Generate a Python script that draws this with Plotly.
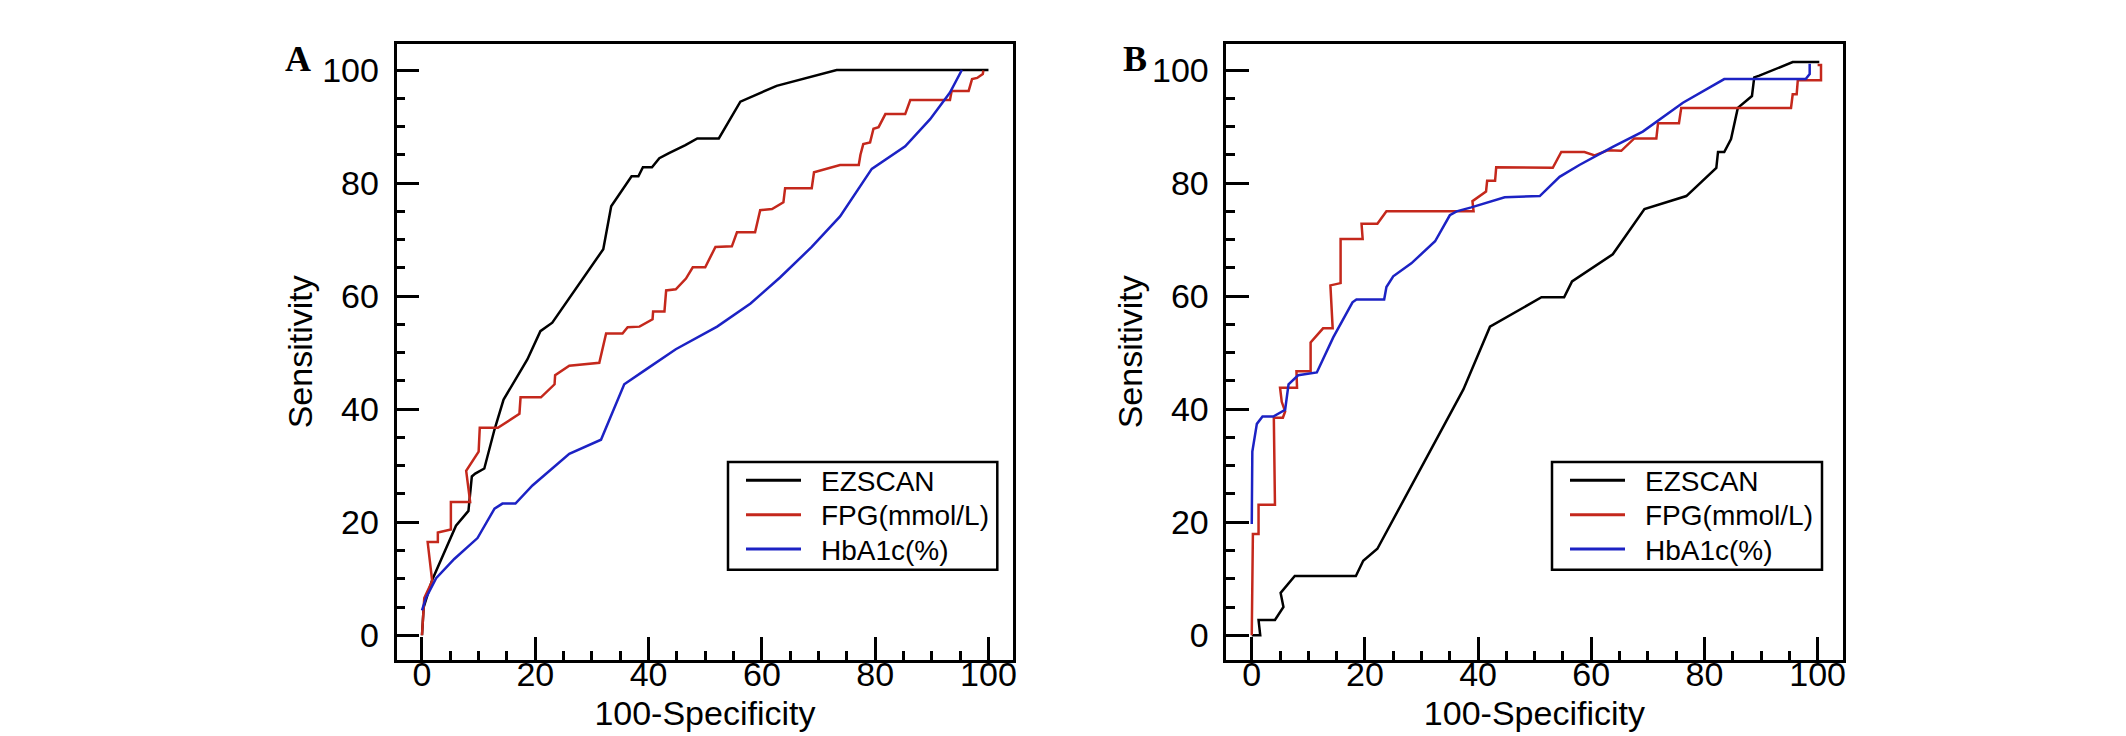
import plotly.graph_objects as go

# ================= DATA =================
# panel A
ez_a_x = [0, 0.3, 1.8, 6.0, 8.2, 8.8, 9.4, 11.0, 12.8, 14.4, 18.6, 20.9, 23.0, 32.0, 33.4,
          37.0, 38.2, 39.0, 40.6, 41.9, 43.6, 46.5, 48.6, 52.4, 56.2, 62.6, 73.2, 100]
ez_a_y = [0, 5.0, 9.8, 19.4, 22.0, 28.1, 28.6, 29.5, 36.4, 41.7, 48.8, 53.8, 55.3, 68.3, 75.9,
          81.2, 81.2, 82.8, 82.8, 84.4, 85.3, 86.7, 87.9, 87.9, 94.4, 97.2, 100, 100]

fpg_a_x = [0, 0.4, 1.8, 1.0, 2.8, 2.8, 5.1, 5.1, 8.5, 7.8, 10.0, 10.2, 13.4, 17.2, 17.4,
           21.0, 23.4, 23.5, 26.0, 31.3, 32.5, 35.4, 36.3, 38.4, 40.7, 40.8, 42.8, 43.1, 44.8, 46.6,
           47.8, 50.0, 51.8, 54.7, 55.6, 58.8, 59.7, 61.8, 63.8, 64.1, 68.8, 69.2, 73.8, 77.1, 77.4,
           77.9, 79.1, 79.7, 80.6, 81.8, 85.3, 86.2, 93.2, 93.5, 96.5, 97.1, 98.0, 99.0, 99.1]
fpg_a_y = [0, 6.6, 9.6, 16.5, 16.5, 18.2, 18.7, 23.6, 23.6, 29.1, 32.5, 36.7, 36.7, 39.2, 42.1,
           42.1, 44.4, 46.0, 47.7, 48.2, 53.4, 53.4, 54.5, 54.6, 55.9, 57.3, 57.3, 61.0, 61.2, 63.1,
           65.1, 65.1, 68.7, 68.8, 71.3, 71.3, 75.2, 75.4, 76.6, 79.1, 79.1, 81.9, 83.2, 83.2, 85.0,
           86.9, 87.2, 89.6, 89.9, 92.2, 92.2, 94.7, 94.7, 96.3, 96.3, 98.4, 98.6, 99.3, 99.9]

hba_a_x = [0, 0.7, 2.5, 5.7, 9.8, 12.8, 14.2, 16.5, 19.5, 26.0, 31.6, 35.7, 39.5, 44.8, 52.1,
           58.0, 63.2, 68.8, 73.8, 79.4, 85.3, 89.7, 93.2, 95.3]
hba_a_y = [4.4, 6.6, 10.1, 13.5, 17.2, 22.4, 23.3, 23.3, 26.5, 32.1, 34.6, 44.4, 47.0, 50.6, 54.6,
           58.7, 63.3, 68.7, 74.1, 82.5, 86.5, 91.3, 96.0, 100]

# panel B
ez_b_x = [0, 1.5, 1.2, 4.1, 5.6, 5.1, 7.6, 18.4, 19.7, 22.2, 37.4, 42.1, 51.2, 55.2, 56.6,
          63.8, 69.4, 76.8, 82.1, 82.4, 83.5, 84.7, 85.9, 88.4, 88.8, 89.7, 95.6, 100.3]
ez_b_y = [0, 0, 2.7, 2.7, 5.0, 7.5, 10.5, 10.5, 13.2, 15.3, 43.5, 54.6, 59.8, 59.8, 62.6,
          67.4, 75.4, 77.7, 82.7, 85.5, 85.5, 87.8, 93.3, 95.4, 98.7, 99.0, 101.4, 101.4]

fpg_b_x = [0, 0.2, 1.2, 1.2, 4.1, 3.9, 5.5, 5.9, 5.3, 5.0, 8.0, 7.9, 10.4, 10.4, 12.6,
           14.3, 13.9, 15.7, 15.7, 19.6, 19.4, 22.2, 23.8, 39.2, 39.0, 41.4, 41.6, 43.0, 43.2, 53.2,
           54.7, 58.8, 60.6, 62.9, 65.3, 67.6, 71.5, 71.8, 75.5, 75.9, 95.3, 95.6, 96.3, 96.5, 100.6,
           100.6, 100.0]
fpg_b_y = [0, 17.9, 17.9, 23.1, 23.1, 38.5, 38.5, 39.6, 41.3, 43.8, 43.8, 46.7, 46.7, 51.8, 54.3,
           54.3, 61.9, 62.3, 70.1, 70.1, 72.8, 72.8, 75.0, 75.0, 76.8, 78.5, 80.4, 80.4, 82.8, 82.7,
           85.5, 85.5, 84.9, 85.8, 85.7, 87.9, 87.9, 90.6, 90.6, 93.3, 93.3, 95.7, 95.7, 98.2, 98.2,
           100.9, 100.9]

hba_b_x = [0, 0.1, 0.9, 1.9, 3.8, 5.9, 6.5, 8.2, 11.5, 14.4, 17.8, 18.5, 23.4, 23.8, 25.0,
           28.2, 32.4, 33.5, 35.0, 36.2, 38.8, 44.7, 50.9, 54.4, 57.9, 63.8, 69.1, 76.2, 83.5, 97.9,
           98.6, 98.6]
hba_b_y = [19.7, 32.5, 37.4, 38.7, 38.7, 39.9, 44.4, 46.0, 46.5, 52.7, 58.9, 59.4, 59.4, 61.6, 63.5,
           65.8, 69.7, 71.6, 74.3, 75.0, 75.7, 77.5, 77.7, 81.1, 83.2, 86.4, 89.1, 94.2, 98.4, 98.4,
           99.3, 101.1]

names = ["EZSCAN", "FPG(mmol/L)", "HbA1c(%)"]
colors = ["#000000", "#C4281C", "#1C22C4"]

W, H = 2126, 736
FONT = "Liberation Sans, Arial, sans-serif"

fig = go.Figure()

panels = [
    ("x", "y", [(ez_a_x, ez_a_y), (fpg_a_x, fpg_a_y), (hba_a_x, hba_a_y)]),
    ("x2", "y2", [(ez_b_x, ez_b_y), (fpg_b_x, fpg_b_y), (hba_b_x, hba_b_y)]),
]
for xa, ya, series in panels:
    for (sx, sy), name, col in zip(series, names, colors):
        assert len(sx) == len(sy), name
        fig.add_trace(go.Scatter(
            x=sx, y=sy, mode="lines", name=name,
            line=dict(color=col, width=2.5),
            xaxis=xa, yaxis=ya, showlegend=False,
        ))

# ================= AXES =================
def ax_style(is_x):
    return dict(
        range=[-4.5, 104.4] if is_x else [-4.3, 104.6],
        dtick=20, tick0=0,
        ticks="inside", ticklen=23, tickwidth=2.5, tickcolor="black",
        minor=dict(dtick=5, tick0=0, ticks="inside", ticklen=9, tickwidth=2.5, tickcolor="black"),
        showline=True, mirror=True, linecolor="black", linewidth=2.5,
        showgrid=False, zeroline=False,
        tickfont=dict(family=FONT, size=34, color="black"),
        ticklabelstandoff=-17 if is_x else 8,
        title=dict(text="100-Specificity" if is_x else "Sensitivity",
                   font=dict(family=FONT, size=34, color="black"),
                   standoff=10 if is_x else 0),
        automargin=False,
    )

ydom = [(H - 651.6) / H, (H - 36) / H]
fig.update_layout(
    xaxis=dict(domain=[388.5 / W, 1005.4 / W], anchor="y", **ax_style(True)),
    yaxis=dict(domain=ydom, anchor="x", **ax_style(False)),
    xaxis2=dict(domain=[1218.3 / W, 1834.5 / W], anchor="y2", **ax_style(True)),
    yaxis2=dict(domain=ydom, anchor="x2", **ax_style(False)),
)

# ================= LEGENDS (boxed, inside each panel) =================
LEG_TOP, LEG_BOT = 454, 561.7
row_y = [472.3, 506.7, 541.0]
for left, right in [(720, 989.3), (1544, 1814)]:
    fig.add_shape(type="rect", xref="paper", yref="paper",
                  x0=left / W, x1=right / W, y0=(H - LEG_BOT) / H, y1=(H - LEG_TOP) / H,
                  line=dict(color="black", width=2.5), fillcolor="white", layer="above")
    for ry, name, col in zip(row_y, names, colors):
        fig.add_shape(type="line", xref="paper", yref="paper",
                      x0=(left + 18) / W, x1=(left + 73) / W, y0=(H - ry) / H, y1=(H - ry) / H,
                      line=dict(color=col, width=3), layer="above")
        fig.add_annotation(text=name, xref="paper", yref="paper",
                           x=(left + 91) / W, y=(H - ry - 1) / H, xanchor="left", yanchor="middle",
                           showarrow=False, font=dict(family=FONT, size=28, color="black"))

# ================= PANEL LETTERS =================
for letter, xc in [("A", 290), ("B", 1127)]:
    fig.add_annotation(
        text="<b>%s</b>" % letter, xref="paper", yref="paper",
        x=xc / W, y=(H - 29) / H, xanchor="center", yanchor="top",
        showarrow=False, font=dict(family="Liberation Serif, Times New Roman, serif", size=36, color="black"),
    )

fig.update_layout(
    width=W, height=H,
    margin=dict(l=0, r=0, t=0, b=0),
    paper_bgcolor="white", plot_bgcolor="white",
    showlegend=False,
)

fig.write_html("out.html")
